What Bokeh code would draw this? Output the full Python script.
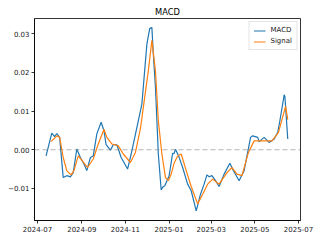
import pandas as pd
from bokeh.plotting import figure
from bokeh.models import Range1d, FixedTicker, DatetimeTickFormatter, Span, Legend
from bokeh.embed import file_html
from bokeh.resources import INLINE

macd_dates = ["2024-07-13", "2024-07-21", "2024-07-25", "2024-07-28", "2024-08-01", "2024-08-06",
              "2024-08-11", "2024-08-16", "2024-08-20", "2024-08-25", "2024-08-30", "2024-09-04",
              "2024-09-08", "2024-09-13", "2024-09-17", "2024-09-22", "2024-09-28", "2024-10-02",
              "2024-10-05", "2024-10-11", "2024-10-15", "2024-10-20", "2024-10-26", "2024-10-30",
              "2024-11-04", "2024-11-09", "2024-11-13", "2024-11-19", "2024-11-24", "2024-12-01",
              "2024-12-05", "2024-12-08", "2024-12-10", "2024-12-13", "2024-12-15", "2024-12-17",
              "2024-12-21", "2024-12-23", "2024-12-26", "2025-01-01", "2025-01-06", "2025-01-08",
              "2025-01-10", "2025-01-14", "2025-01-20", "2025-01-27", "2025-02-01", "2025-02-08",
              "2025-02-14", "2025-02-19", "2025-02-23", "2025-02-26", "2025-03-02", "2025-03-07",
              "2025-03-12", "2025-03-19", "2025-03-27", "2025-04-01", "2025-04-09", "2025-04-16",
              "2025-04-25", "2025-04-28", "2025-05-05", "2025-05-07", "2025-05-14", "2025-05-21",
              "2025-05-28", "2025-06-02", "2025-06-05", "2025-06-11", "2025-06-12", "2025-06-16"]
macd_values = [-0.0016, 0.0043, 0.0034, 0.0042, 0.0032, -0.0072,
               -0.0067, -0.0070, -0.0059, 0.0002, -0.0020, -0.0037,
               -0.0054, -0.0020, -0.0016, 0.0041, 0.0071, 0.0049,
               0.0013, -0.0001, 0.0013, 0.0013, -0.0020, -0.0033,
               -0.0050, -0.0011, 0.0023, 0.0075, 0.0118, 0.0273,
               0.0314, 0.0316, 0.0247, 0.0161, 0.0075, -0.0011,
               -0.0104, -0.0097, -0.0093, -0.0068, -0.0009, -0.0010,
               0.0001, -0.0014, -0.0046, -0.0089, -0.0106, -0.0158,
               -0.0115, -0.0089, -0.0065, -0.0070, -0.0067, -0.0080,
               -0.0095, -0.0063, -0.0035, -0.0054, -0.0080, -0.0054,
               0.0032, 0.0036, 0.0032, 0.0021, 0.0032, 0.0019,
               0.0028, 0.0045, 0.0075, 0.0142, 0.0138, 0.0028]

signal_dates = ["2024-07-20", "2024-07-28", "2024-08-01", "2024-08-06", "2024-08-11", "2024-08-17",
                "2024-08-21", "2024-08-27", "2024-09-01", "2024-09-09", "2024-09-17", "2024-09-24",
                "2024-10-02", "2024-10-06", "2024-10-13", "2024-10-22", "2024-10-29", "2024-11-08",
                "2024-11-15", "2024-11-22", "2024-11-26", "2024-12-03", "2024-12-08", "2024-12-13",
                "2024-12-17", "2024-12-22", "2024-12-27", "2024-12-31", "2025-01-04", "2025-01-08",
                "2025-01-13", "2025-01-18", "2025-01-25", "2025-02-01", "2025-02-10", "2025-02-17",
                "2025-02-24", "2025-03-03", "2025-03-12", "2025-03-23", "2025-03-30", "2025-04-06",
                "2025-04-13", "2025-04-22", "2025-04-30", "2025-05-09", "2025-05-18", "2025-05-25",
                "2025-06-03", "2025-06-13", "2025-06-16"]
signal_values = [0.0021, 0.0036, 0.0032, -0.0020, -0.0054, -0.0065,
                 -0.0054, -0.0016, -0.0027, -0.0046, -0.0024, 0.0015,
                 0.0053, 0.0032, 0.0015, 0.0010, -0.0011, -0.0033,
                 -0.0007, 0.0055, 0.0109, 0.0204, 0.0283, 0.0204,
                 0.0075, -0.0011, -0.0072, -0.0080, -0.0063, -0.0035,
                 -0.0016, -0.0011, -0.0054, -0.0095, -0.0140, -0.0115,
                 -0.0089, -0.0076, -0.0089, -0.0059, -0.0046, -0.0063,
                 -0.0067, -0.0007, 0.0023, 0.0023, 0.0023, 0.0023,
                 0.0045, 0.0112, 0.0078]

x_tick_labels = ["2024-07-01", "2024-09-01", "2024-11-01", "2025-01-01", "2025-03-01", "2025-05-01", "2025-07-01"]
y_ticks = [-0.01, 0.0, 0.01, 0.02, 0.03]
y_tick_labels = ["\u22120.01", "0.00", "0.01", "0.02", "0.03"]

FONT = "DejaVu Sans"

def ms(s):
    return pd.Timestamp(s).value / 1e6

p = figure(width=320, height=240, x_axis_type="datetime", output_backend="svg",
           toolbar_location=None, title="MACD",
           x_range=Range1d(ms("2024-06-26 20:00"), ms("2025-07-03 20:00")),
           y_range=Range1d(-0.0183, 0.03395),
           min_border_left=34, min_border_right=20, min_border_top=18, min_border_bottom=20)

p.title.align = "center"
p.title.text_font = FONT
p.title.text_font_size = "8.3px"
p.title.text_font_style = "normal"
p.title.text_color = "black"
p.title.standoff = 3
p.title.offset = 0

p.xgrid.visible = False
p.ygrid.visible = False
p.outline_line_color = "black"
p.outline_line_width = 0.8

span = Span(location=0, dimension="width", line_color="gray", line_alpha=0.6,
            line_dash="5 3", line_width=1)
p.add_layout(span)

p.line(pd.to_datetime(macd_dates), macd_values, line_color="#1f77b4", line_width=1.2, legend_label="MACD")
p.line(pd.to_datetime(signal_dates), signal_values, line_color="#ff7f0e", line_width=1.2, legend_label="Signal")

for ax in (p.xaxis[0], p.yaxis[0]):
    ax.axis_line_color = "black"
    ax.axis_line_width = 0.8
    ax.major_tick_in = 0
    ax.major_tick_out = 3
    ax.major_tick_line_color = "black"
    ax.major_tick_line_width = 0.8
    ax.minor_tick_line_color = None
    ax.major_label_text_font = FONT
    ax.major_label_text_font_size = "7px"
    ax.major_label_text_color = "#222222"
    ax.major_label_standoff = 2

p.xaxis[0].ticker = FixedTicker(ticks=[ms(d) for d in x_tick_labels])
p.xaxis[0].formatter = DatetimeTickFormatter(days="%Y-%m", months="%Y-%m", years="%Y-%m")
p.yaxis[0].ticker = FixedTicker(ticks=y_ticks)
p.yaxis[0].major_label_overrides = {t: l for t, l in zip(y_ticks, y_tick_labels)}

lg = p.legend[0]
lg.location = "top_right"
lg.margin = 3
lg.padding = 4
lg.spacing = 3
lg.label_height = 7
lg.glyph_height = 7
lg.glyph_width = 12
lg.label_standoff = 5
lg.label_text_font = FONT
lg.label_text_font_size = "7px"
lg.label_text_color = "#222222"
lg.border_line_color = "#cccccc"
lg.background_fill_alpha = 0.8

open("out.html", "w").write(file_html(p, INLINE))
